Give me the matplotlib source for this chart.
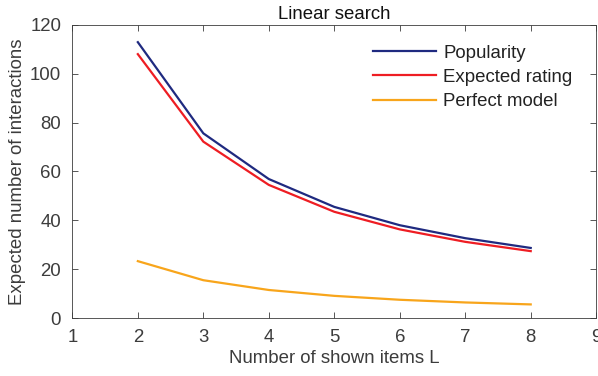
import matplotlib
matplotlib.use("Agg")
import matplotlib.pyplot as plt

# shown items L and expected interactions for each model
L = [2, 3, 4, 5, 6, 7, 8]
popularity = [112.9, 75.6, 56.9, 45.5, 38.0, 32.7, 28.7]
expected_rating = [108.0, 72.2, 54.5, 43.5, 36.3, 31.2, 27.4]
perfect_model = [23.3, 15.5, 11.5, 9.1, 7.5, 6.4, 5.6]

xticks = [1, 2, 3, 4, 5, 6, 7, 8, 9]
yticks = [0, 20, 40, 60, 80, 100, 120]

plt.rcParams['font.family'] = ['Liberation Sans', 'DejaVu Sans']
textColor = '#3c3c3c'
axisColor = '#3c3c3c'
fs = 13.4

fig = plt.figure(figsize=(5.98, 3.76), dpi=100)
ax = fig.add_axes([0.121, 0.154, 0.876, 0.78])

ax.plot(L, popularity, color='#1f2a80', lw=1.6, label='Popularity')
ax.plot(L, expected_rating, color='#ee1d23', lw=1.6, label='Expected rating')
ax.plot(L, perfect_model, color='#f8a51b', lw=1.6, label='Perfect model')

ax.set_xlim(1, 9)
ax.set_ylim(0, 120)
ax.set_xticks(xticks)
ax.set_yticks(yticks)
ax.tick_params(direction='in', top=True, right=True, length=4, width=0.6,
               labelsize=fs, colors=axisColor, labelcolor=textColor)
ax.tick_params(axis='x', pad=8)
ax.tick_params(axis='y', pad=8)
for s in ax.spines.values():
    s.set_linewidth(0.6)
    s.set_color(axisColor)

ax.set_xlabel('Number of shown items L', fontsize=fs, color=textColor, labelpad=3)
ax.set_ylabel('Expected number of interactions', fontsize=fs, color=textColor, labelpad=3)
ax.set_title('Linear search', fontsize=fs, color='#111111', pad=4)

leg = ax.legend(loc='upper right', frameon=False, fontsize=fs,
                handlelength=3.4, handletextpad=0.4, labelspacing=0.4,
                bbox_to_anchor=(0.987, 0.99))
for t in leg.get_texts():
    t.set_color('#222222')

fig.savefig('out.png', dpi=100)
